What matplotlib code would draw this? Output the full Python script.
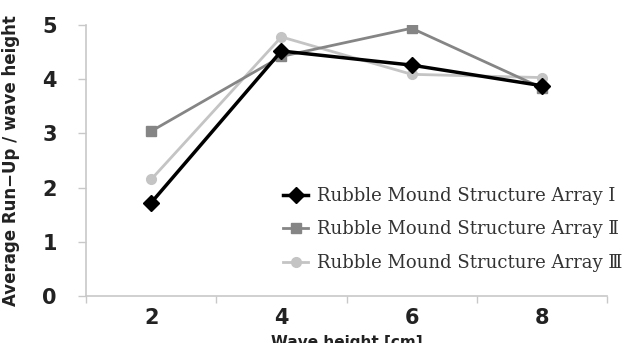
import matplotlib
matplotlib.use("Agg")
import matplotlib.pyplot as plt
import numpy as np

# wave heights (cm) and average run-up / wave height per structure array
wave_height = ["2", "4", "6", "8"]
array_1 = [1.72, 4.52, 4.26, 3.88]
array_2 = [3.04, 4.42, 4.94, 3.84]
array_3 = [2.15, 4.78, 4.09, 4.03]
labels = ["Rubble Mound Structure Array Ⅰ",
          "Rubble Mound Structure Array Ⅱ",
          "Rubble Mound Structure Array Ⅲ"]

plt.rcParams["ytick.major.pad"] = 15
plt.rcParams["ytick.major.size"] = 6
plt.rcParams["ytick.labelsize"] = 15
plt.rcParams["xtick.labelsize"] = 15
plt.rcParams["xtick.major.pad"] = 9

fig = plt.figure(figsize=(6.35, 3.43), dpi=100)
ax = fig.add_axes([86 / 635, 47 / 343, 521 / 635, 271 / 343])

x = np.arange(len(wave_height))
ax.plot(x, array_1, color="black", lw=2.5, marker="D", ms=8, label=labels[0], zorder=4)
ax.plot(x, array_2, color="#858585", lw=2, marker="s", ms=7, label=labels[1], zorder=3)
ax.plot(x, array_3, color="#c4c4c4", lw=2, marker="o", ms=7, label=labels[2], zorder=2)

ax.set_xlim(-0.5, len(x) - 0.5)
ax.set_ylim(0, 5)
ax.set_yticks(range(6))
ax.set_xticks(x)
ax.set_xticklabels(wave_height)
ax.set_xticks(np.arange(-0.5, len(x)), minor=True)
ax.tick_params(axis="x", which="major", length=0)
ax.tick_params(axis="x", which="minor", length=5, color="#c8c8c8", width=1)
ax.tick_params(axis="y", color="#c8c8c8", width=1)
for lab in ax.get_xticklabels() + ax.get_yticklabels():
    lab.set_fontweight("bold")
    lab.set_color("#222222")

for s in ["top", "right"]:
    ax.spines[s].set_visible(False)
for s in ["left", "bottom"]:
    ax.spines[s].set_color("#c8c8c8")
    ax.spines[s].set_linewidth(1.2)

ax.set_ylabel("Average Run−Up / wave height", fontsize=12, fontweight="bold",
              color="#222222")
ax.yaxis.set_label_coords(-66 / 521, 0.5)
ax.set_xlabel("Wave height [cm]", fontsize=11, fontweight="bold", color="#222222")
ax.xaxis.set_label_coords(0.5, -0.145)

ax.legend(loc="upper left", bbox_to_anchor=(188 / 521, 0.435), frameon=False,
          prop={"family": ["DejaVu Serif", "Noto Sans CJK KR"], "size": 13},
          handlelength=1.4, handletextpad=0.5, labelspacing=0.85, borderpad=0,
          labelcolor="#333333")

fig.savefig("out.png", dpi=100)
